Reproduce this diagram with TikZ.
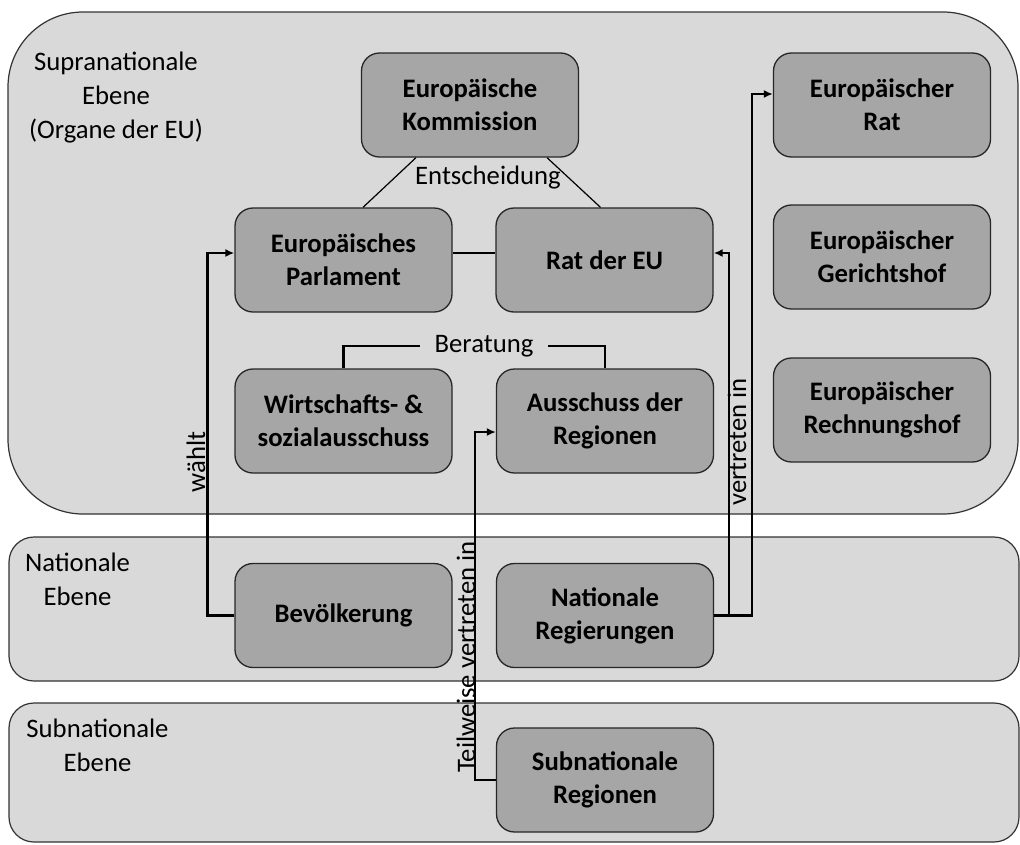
\documentclass[tikz,border=0pt]{standalone}
\usepackage{fontspec}
\setmainfont{Carlito}
\usetikzlibrary{arrows.meta}
\begin{document}
\begin{tikzpicture}[x=1pt,y=-1pt,
  every node/.style={font=\fontsize{26.7}{34}\selectfont,align=center},
  ebene/.style={draw=black!80,fill=black!15,line width=1.2pt},
  organ/.style={draw=black!85,fill=black!35,line width=1.3pt,rounded corners=18pt,
    minimum width=217pt,minimum height=104pt,inner sep=0pt,
    font=\fontsize{26.7}{33}\selectfont\bfseries},
  link/.style={line width=2.6pt,-{Latex[length=9pt,width=8pt]}},
  bezug/.style={line width=1.2pt},
  klammer/.style={line width=2.6pt}]
\useasboundingbox (0,0) rectangle (1020,844);
\draw[ebene,rounded corners=75pt] (8,12) rectangle (1018,514);
\draw[ebene,rounded corners=25pt] (9,537) rectangle (1019,681);
\draw[ebene,rounded corners=25pt] (9,703) rectangle (1019,842);
\node (supra) at (116,98) {Supranationale\\Ebene\\(Organe der EU)};
\node (nat) at (77.5,579) {Nationale\\Ebene};
\node (subnat) at (97.5,745) {Subnationale\\Ebene};
\node[organ] (kom) at (470,105) {Europäische\\Kommission};
\node[organ] (parl) at (343.5,260) {Europäisches\\Parlament};
\node[organ] (rat) at (604.5,260) {Rat der EU};
\node[organ] (wirt) at (343.5,421) {Wirtschafts- \&\\sozialausschuss};
\node[organ] (aus) at (605,421) {Ausschuss der\\Regionen};
\node[organ] (er) at (882,105) {Europäischer\\Rat};
\node[organ] (gh) at (882,257) {Europäischer\\Gerichtshof};
\node[organ] (rh) at (882,410) {Europäischer\\Rechnungshof};
\node[organ] (bev) at (343.5,615.5) {Bevölkerung};
\node[organ] (reg) at (605,615.5) {Nationale\\Regierungen};
\node[organ] (subreg) at (605,780) {Subnationale\\Regionen};
\draw[bezug] ([xshift=-54pt]kom.south) -- ([xshift=19.5pt]parl.north);
\draw[bezug] ([xshift=77pt]kom.south) -- ([xshift=-4pt]rat.north);
\draw[bezug] ([yshift=7pt]parl.east) -- ([yshift=7pt]rat.west);
\node (ent) at (488,178) {Entscheidung};
\node[inner xsep=14pt] (ber) at (484,346) {Beratung};
\draw[klammer] (wirt.north) |- (ber.west);
\draw[klammer] (aus.north) |- (ber.east);
\draw[link] (bev.west) -- ++(-27,0) |- ([yshift=7pt]parl.west);
\draw[link] (subreg.west) -- ++(-21,0) |- ([yshift=-11pt]aus.west);
\draw[link] (reg.east) -- ++(15,0) |- ([yshift=7pt]rat.east);
\draw[link] (reg.east) -- ++(38,0) |- ([yshift=11pt]er.west);
\node[rotate=90] (waehlt) at (196,462) {wählt};
\node[rotate=90] (teilw) at (466,657) {Teilweise vertreten in};
\node[rotate=90] (vertr) at (737,442) {vertreten in};
\end{tikzpicture}
\end{document}
